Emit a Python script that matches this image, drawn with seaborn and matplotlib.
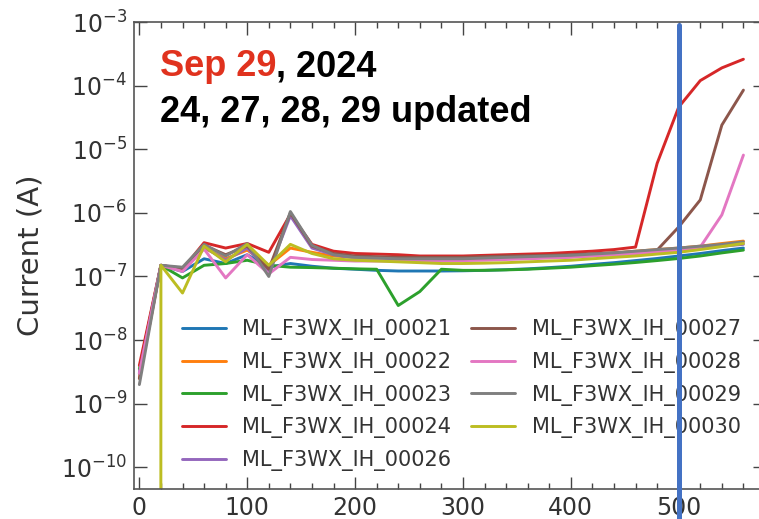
import numpy as np
import pandas as pd
import matplotlib
matplotlib.use('Agg')
import matplotlib.pyplot as plt
import matplotlib.ticker as mticker
import matplotlib.transforms as mtransforms
from matplotlib.lines import Line2D
import seaborn as sns

# bias points (x axis)
bias = [0, 20, 40, 60, 80, 100, 120, 140, 160, 180, 200, 220, 240, 260, 280,
        300, 320, 340, 360, 380, 400, 420, 440, 460, 480, 500, 520, 540, 560]

names = ['ML_F3WX_IH_00021', 'ML_F3WX_IH_00022', 'ML_F3WX_IH_00023',
         'ML_F3WX_IH_00024', 'ML_F3WX_IH_00026', 'ML_F3WX_IH_00027',
         'ML_F3WX_IH_00028', 'ML_F3WX_IH_00029', 'ML_F3WX_IH_00030']

yticks = [1e-10, 1e-9, 1e-8, 1e-7, 1e-6, 1e-5, 1e-4, 1e-3]

i21 = [3e-9, 1.5e-7, 1.2e-7, 1.9e-7, 1.6e-7, 2.2e-7, 1.4e-7, 1.6e-7, 1.45e-7, 1.35e-7,
       1.3e-7, 1.25e-7, 1.22e-7, 1.22e-7, 1.22e-7, 1.23e-7, 1.25e-7, 1.28e-7, 1.32e-7,
       1.38e-7, 1.45e-7, 1.55e-7, 1.65e-7, 1.78e-7, 1.92e-7, 2.1e-7, 2.3e-7, 2.55e-7, 2.8e-7]
i22 = [2.5e-9, 1.5e-7, 1.3e-7, 2.8e-7, 1.9e-7, 2.6e-7, 1.5e-7, 2.8e-7, 2.4e-7, 2.1e-7,
       2.0e-7, 1.95e-7, 1.9e-7, 1.9e-7, 1.9e-7, 1.9e-7, 1.95e-7, 2.0e-7, 2.05e-7,
       2.1e-7, 2.15e-7, 2.25e-7, 2.35e-7, 2.5e-7, 2.65e-7, 2.8e-7, 3.0e-7, 3.3e-7, 3.6e-7]
i23 = [3.5e-9, 1.5e-7, 9.5e-8, 1.5e-7, 1.6e-7, 1.8e-7, 1.5e-7, 1.4e-7, 1.38e-7, 1.35e-7,
       1.32e-7, 1.3e-7, 3.5e-8, 5.8e-8, 1.3e-7, 1.25e-7, 1.25e-7, 1.27e-7, 1.3e-7,
       1.35e-7, 1.4e-7, 1.48e-7, 1.56e-7, 1.66e-7, 1.78e-7, 1.92e-7, 2.1e-7, 2.35e-7, 2.6e-7]
i24 = [4e-9, 1.5e-7, 1.3e-7, 3.4e-7, 2.8e-7, 3.3e-7, 2.4e-7, 9.5e-7, 3.2e-7, 2.5e-7,
       2.3e-7, 2.25e-7, 2.2e-7, 2.1e-7, 2.1e-7, 2.1e-7, 2.15e-7, 2.2e-7, 2.25e-7,
       2.3e-7, 2.4e-7, 2.5e-7, 2.65e-7, 2.9e-7, 6e-6, 4.6e-5, 1.2e-4, 1.9e-4, 2.6e-4]
i26 = [3e-9, 1.5e-7, 1.35e-7, 2.9e-7, 1.8e-7, 2.8e-7, 1.2e-7, 9e-7, 2.8e-7, 2.2e-7,
       1.95e-7, 1.9e-7, 1.85e-7, 1.85e-7, 1.85e-7, 1.85e-7, 1.9e-7, 1.92e-7, 1.95e-7,
       2.0e-7, 2.05e-7, 2.12e-7, 2.2e-7, 2.3e-7, 2.45e-7, 2.6e-7, 2.8e-7, 3.0e-7, 3.2e-7]
i27 = [2.5e-9, 1.5e-7, 1.3e-7, 3.1e-7, 2.2e-7, 3.0e-7, 1.3e-7, 1.0e-6, 3.0e-7, 2.3e-7,
       2.1e-7, 2.05e-7, 2.0e-7, 2.0e-7, 2.0e-7, 2.0e-7, 2.05e-7, 2.1e-7, 2.12e-7,
       2.15e-7, 2.2e-7, 2.28e-7, 2.35e-7, 2.45e-7, 2.6e-7, 6e-7, 1.6e-6, 2.4e-5, 8.5e-5]
i28 = [3e-9, 1.5e-7, 1.2e-7, 2.7e-7, 9.5e-8, 2.2e-7, 1.1e-7, 2.0e-7, 1.85e-7, 1.8e-7,
       1.75e-7, 1.75e-7, 1.75e-7, 1.75e-7, 1.75e-7, 1.78e-7, 1.8e-7, 1.85e-7, 1.9e-7,
       1.95e-7, 2.0e-7, 2.1e-7, 2.2e-7, 2.3e-7, 2.45e-7, 2.6e-7, 2.9e-7, 9.3e-7, 8.1e-6]
i29 = [2e-9, 1.5e-7, 1.4e-7, 3.2e-7, 2.1e-7, 3.3e-7, 1.0e-7, 1.05e-6, 3.1e-7, 2.2e-7,
       2.0e-7, 1.95e-7, 1.9e-7, 1.9e-7, 1.9e-7, 1.9e-7, 1.95e-7, 2.0e-7, 2.05e-7,
       2.1e-7, 2.15e-7, 2.25e-7, 2.35e-7, 2.5e-7, 2.65e-7, 2.8e-7, 3.0e-7, 3.2e-7, 3.5e-7]
i30 = [0, 1.5e-7, 5.5e-8, 3.0e-7, 1.7e-7, 3.2e-7, 1.5e-7, 3.2e-7, 2.3e-7, 1.9e-7,
       1.8e-7, 1.75e-7, 1.7e-7, 1.65e-7, 1.6e-7, 1.6e-7, 1.62e-7, 1.65e-7, 1.7e-7,
       1.75e-7, 1.8e-7, 1.9e-7, 2.0e-7, 2.1e-7, 2.25e-7, 2.4e-7, 2.65e-7, 2.95e-7, 3.3e-7]

currents = [i21, i22, i23, i24, i26, i27, i28, i29, i30]

rows = []
for n, vals in zip(names, currents):
    for b, v in zip(bias, vals):
        rows.append({'bias': b, 'current': v, 'sample': n})
df = pd.DataFrame(rows)

sns.set_theme(style='ticks')
plt.rcParams['font.family'] = ['DejaVu Sans']
plt.rcParams['mathtext.fontset'] = 'dejavusans'

fig = plt.figure(figsize=(7.59, 5.19), dpi=100)
ax = fig.add_axes([0.1765, 0.0578, 0.8314, 0.8998])

sns.lineplot(data=df, x='bias', y='current', hue='sample', hue_order=names,
             palette=sns.color_palette('tab10', 9), estimator=None,
             linewidth=2.1, ax=ax)

ax.set_yscale('log')
ax.set_xlim(-5, 580)
ax.set_ylim(10 ** -10.34, 1e-3)
ax.xaxis.set_major_locator(mticker.MultipleLocator(100))
ax.xaxis.set_minor_locator(mticker.MultipleLocator(20))
ax.yaxis.set_major_locator(mticker.FixedLocator(yticks))
ax.yaxis.set_major_formatter(mticker.LogFormatterSciNotation())
ax.yaxis.set_minor_locator(mticker.NullLocator())
ax.tick_params(which='both', direction='in', top=True, right=True,
               colors='#444444', labelcolor='#333333', labelsize=17, width=1)
ax.tick_params(which='major', length=9, pad=5)
ax.tick_params(which='minor', length=4.5)
for s in ax.spines.values():
    s.set_color('#555555')
    s.set_linewidth(1.2)

ax.set_xlabel('')
ax.set_ylabel('Current (A)', fontsize=21, color='#333333')
ax.yaxis.set_label_coords(-0.142, 0.5)

handles, labels = ax.get_legend_handles_labels()
ax.legend(handles, labels, ncol=2, frameon=False, loc='upper left',
          bbox_to_anchor=(0.2398, 0.385), bbox_transform=fig.transFigure,
          fontsize=15, handlelength=2.1, handletextpad=0.8, columnspacing=0.95,
          labelspacing=0.56, borderpad=0, borderaxespad=0, labelcolor='#333333')

# date annotation
t1 = fig.text(160 / 759, 1 - 76 / 519, 'Sep 29', color='#e0321e', fontsize=26,
              fontweight='bold', family=['Liberation Sans', 'DejaVu Sans'], va='baseline')
ax.annotate(', 2024', xy=(1, 0), xycoords=t1, va='bottom', ha='left',
            color='black', fontsize=26, fontweight='bold',
            family=['Liberation Sans', 'DejaVu Sans'])
fig.text(160 / 759, 1 - 122 / 519, '24, 27, 28, 29 updated', color='black',
         fontsize=26, fontweight='bold', family=['Liberation Sans', 'DejaVu Sans'],
         va='baseline')

# blue marker at 500
trans = mtransforms.blended_transform_factory(ax.transData, fig.transFigure)
fig.add_artist(Line2D([500, 500], [1 - 25 / 519, 0], transform=trans,
                      color='#4472c4', linewidth=3.6, zorder=10))

fig.savefig('out.png', dpi=100)
